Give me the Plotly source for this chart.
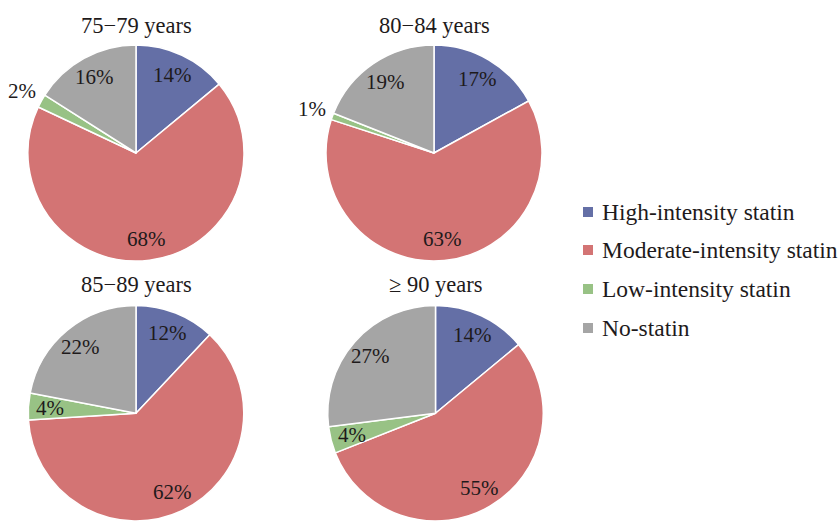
import math
import plotly.graph_objects as go

# Statin use by age group (percent of patients)
categories = ["High-intensity statin", "Moderate-intensity statin",
              "Low-intensity statin", "No-statin"]
age_groups = ["75−79 years", "80−84 years", "85−89 years", "≥ 90 years"]
share_75_79 = [14, 68, 2, 16]
share_80_84 = [17, 63, 1, 19]
share_85_89 = [12, 62, 4, 22]
share_90_up = [14, 55, 4, 27]
colors = ["#646FA6", "#D37474", "#98C285", "#A5A5A5"]

W, H = 840, 521
FONT = "Liberation Serif"
TXT = "#1E1A1B"

# pie centres (px, from top-left) and radius
panels = [
    (share_75_79, 136.0, 153.0),
    (share_80_84, 434.0, 153.0),
    (share_85_89, 136.0, 413.5),
    (share_90_up, 435.5, 413.5),
]
R = 108.0

fig = go.Figure()
annotations = []

for (vals, cx, cy), title in zip(panels, age_groups):
    fig.add_trace(go.Pie(
        labels=categories, values=vals, sort=False,
        direction="clockwise", rotation=0,
        marker=dict(colors=colors, line=dict(color="white", width=1.5)),
        textinfo="none", hoverinfo="label+percent", showlegend=False,
        domain=dict(x=[(cx - R) / W, (cx + R) / W],
                    y=[max(0, (H - cy - R) / H), (H - cy + R) / H]),
    ))
    annotations.append(dict(
        text=title, x=cx / W, y=(H - 25) / H if cy < 260 else (H - 284) / H,
        xref="paper", yref="paper", showarrow=False,
        font=dict(family=FONT, size=22.5, color=TXT),
        xanchor="center", yanchor="middle"))
    # percentage labels placed along each slice's bisector
    total = sum(vals)
    acc = 0.0
    for v in vals:
        mid = (acc + v / 2) / total * 2 * math.pi
        acc += v
        d = R * (1.2 if v / total < 0.03 else 0.8)
        px = cx + d * math.sin(mid)
        py = cy - d * math.cos(mid)
        annotations.append(dict(
            text=f"{v}%", x=px / W, y=(H - py) / H,
            xref="paper", yref="paper", showarrow=False,
            font=dict(family=FONT, size=21, color=TXT),
            xanchor="center", yanchor="middle"))

# legend: colour swatch followed by category name
legend_y = [212, 250, 289, 328]
shapes = []
for cat, col, ly in zip(categories, colors, legend_y):
    shapes.append(dict(type="rect", xref="paper", yref="paper",
                       x0=583 / W, x1=593 / W,
                       y0=(H - ly - 5) / H, y1=(H - ly + 5) / H,
                       fillcolor=col, line=dict(width=0)))
    annotations.append(dict(
        text=cat, x=600 / W, y=(H - ly) / H, xref="paper", yref="paper",
        showarrow=False, xanchor="left", yanchor="middle",
        font=dict(family=FONT, size=23.5, color=TXT)))

fig.update_layout(
    width=W, height=H,
    margin=dict(l=0, r=0, t=0, b=0),
    paper_bgcolor="white", plot_bgcolor="white",
    annotations=annotations, shapes=shapes,
)

fig.write_html("out.html")
